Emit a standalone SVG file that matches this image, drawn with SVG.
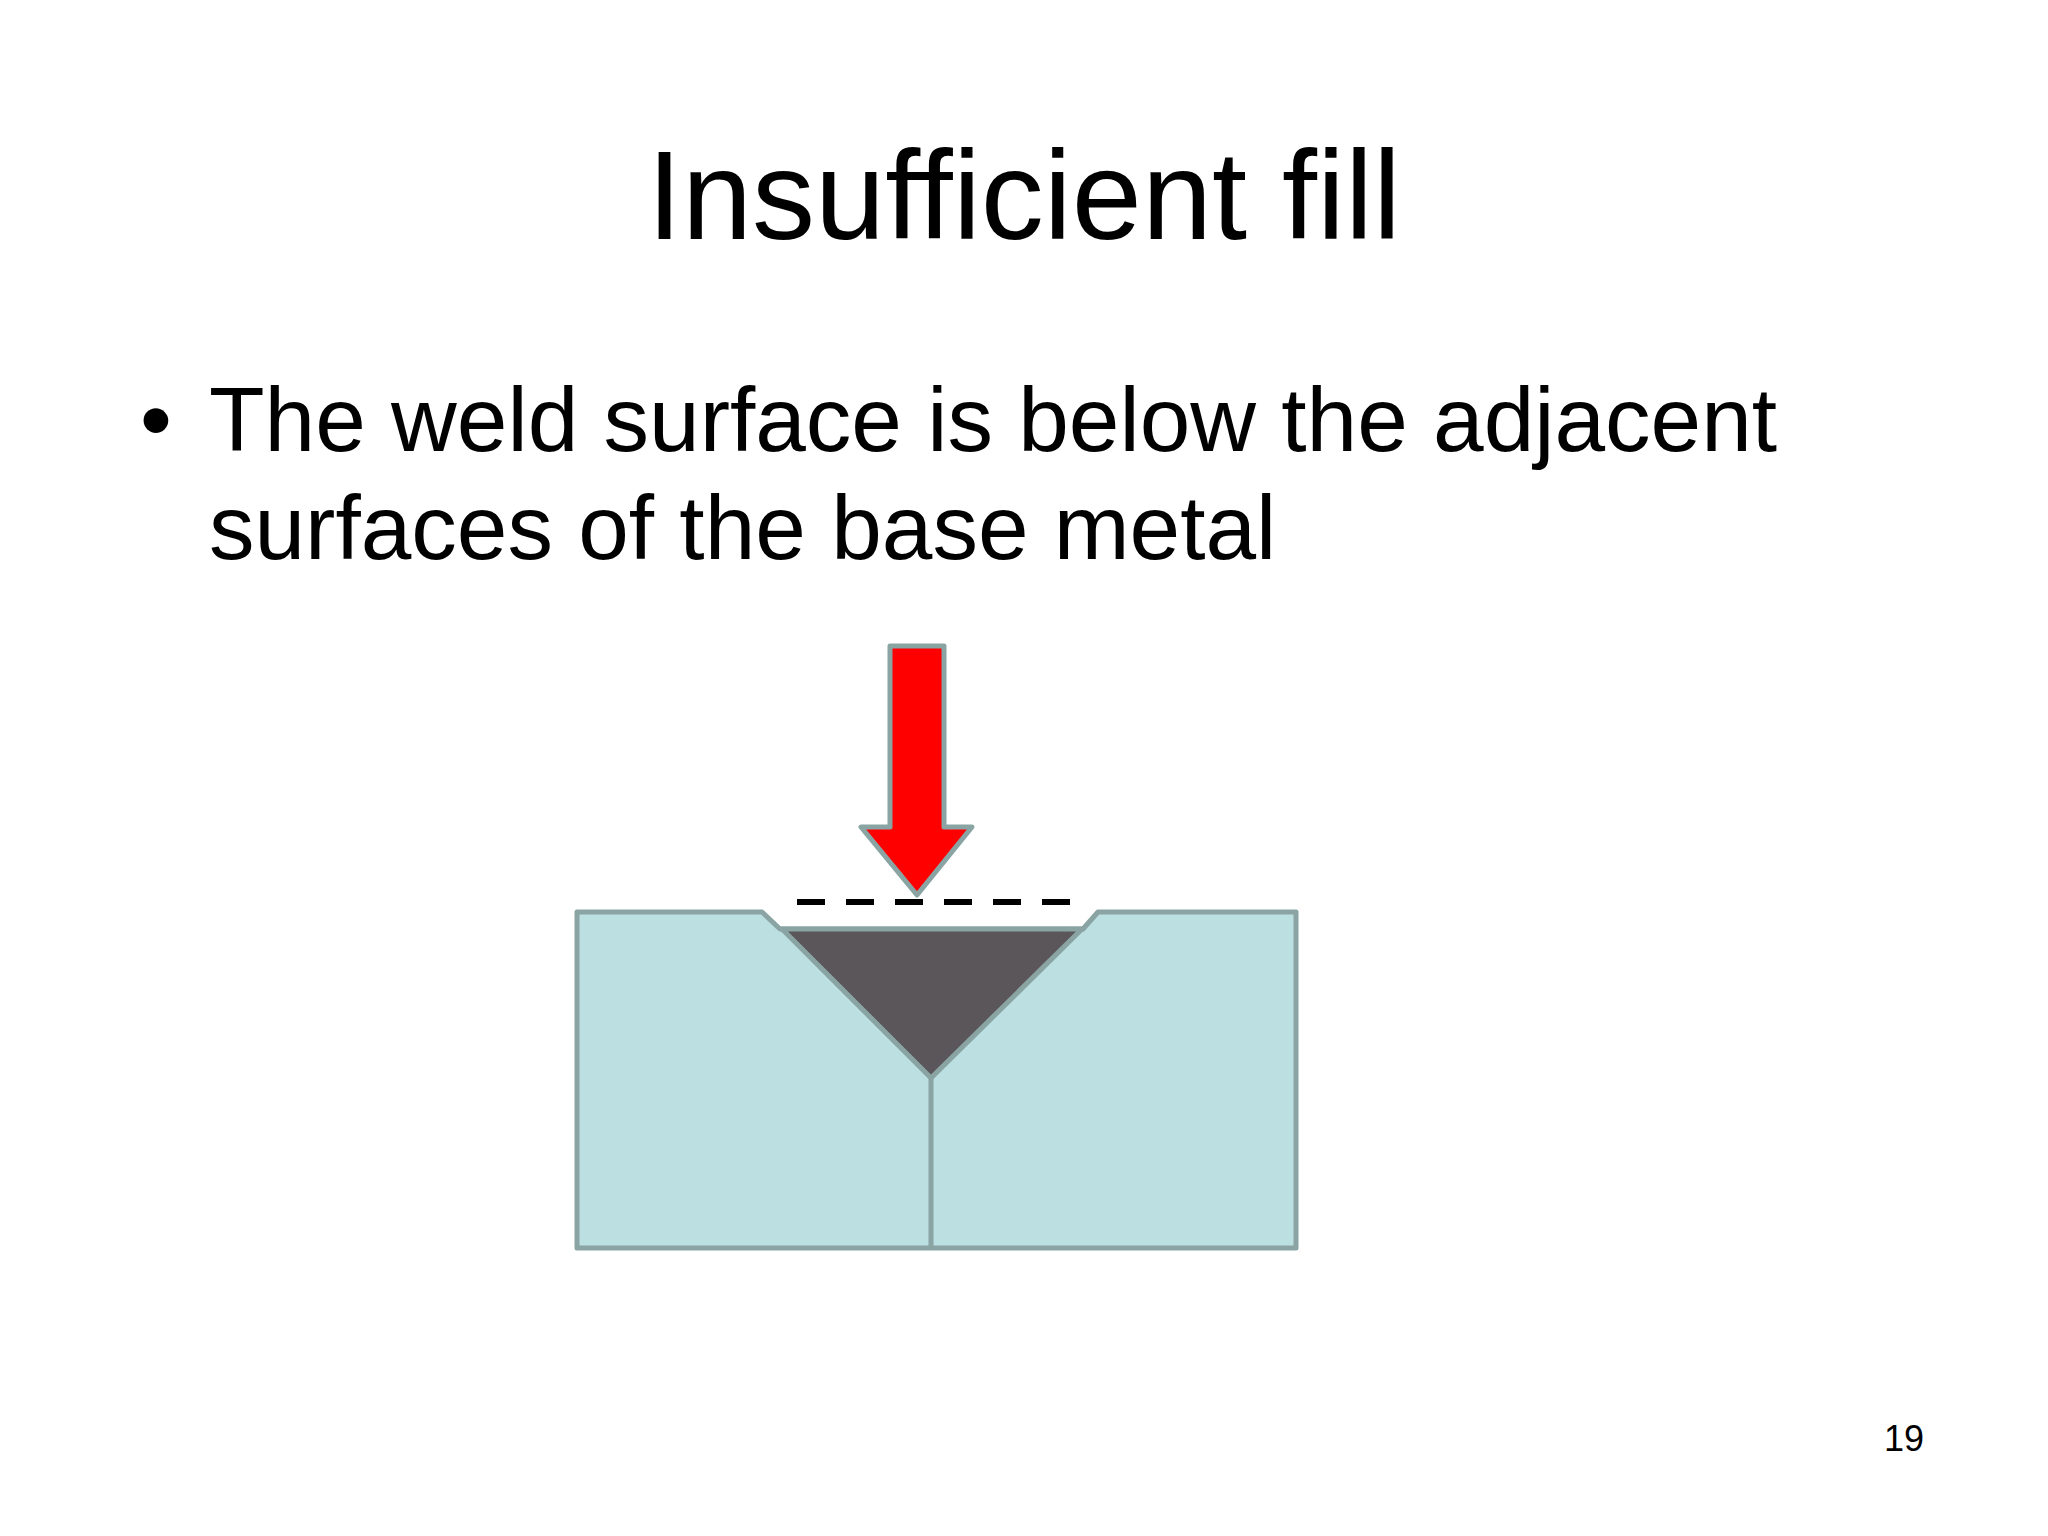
<svg xmlns="http://www.w3.org/2000/svg" width="2048" height="1536" viewBox="0 0 2048 1536">
<style>
text{font-family:"Liberation Sans",Arial,sans-serif;fill:#000}
.st{stroke:#8aa4a4;stroke-width:5;stroke-linejoin:round}
</style>
<rect width="2048" height="1536" fill="#fff"/>
<text x="1024" y="239" font-size="126" text-anchor="middle">Insufficient fill</text>
<text x="140" y="451" font-size="91">•</text>
<text x="209" y="451" font-size="91">The weld surface is below the adjacent</text>
<text x="209" y="559" font-size="91">surfaces of the base metal</text>
<text x="1904" y="1451" font-size="36" text-anchor="middle">19</text>
<g id="joint">
<path class="st" fill="#bcdfe1" d="M577,912 L762,912 L780,929 L1083,929 L1098,912 L1296,912 L1296,1248 L577,1248 Z"/>
<path class="st" fill="#5a565a" d="M782,929 L1082,929 L931,1078 Z"/>
<line class="st" x1="931" y1="1078" x2="931" y2="1248"/>
</g>
<g id="arrow">
<path class="st" fill="#ff0000" d="M890,646 L944,646 L944,827 L972,827 L917,895 L861,827 L890,827 Z"/>
</g>
<g id="connectors">
<line x1="797" y1="902" x2="1071" y2="902" stroke="#000" stroke-width="6" stroke-dasharray="28 21"/>
</g>
</svg>
